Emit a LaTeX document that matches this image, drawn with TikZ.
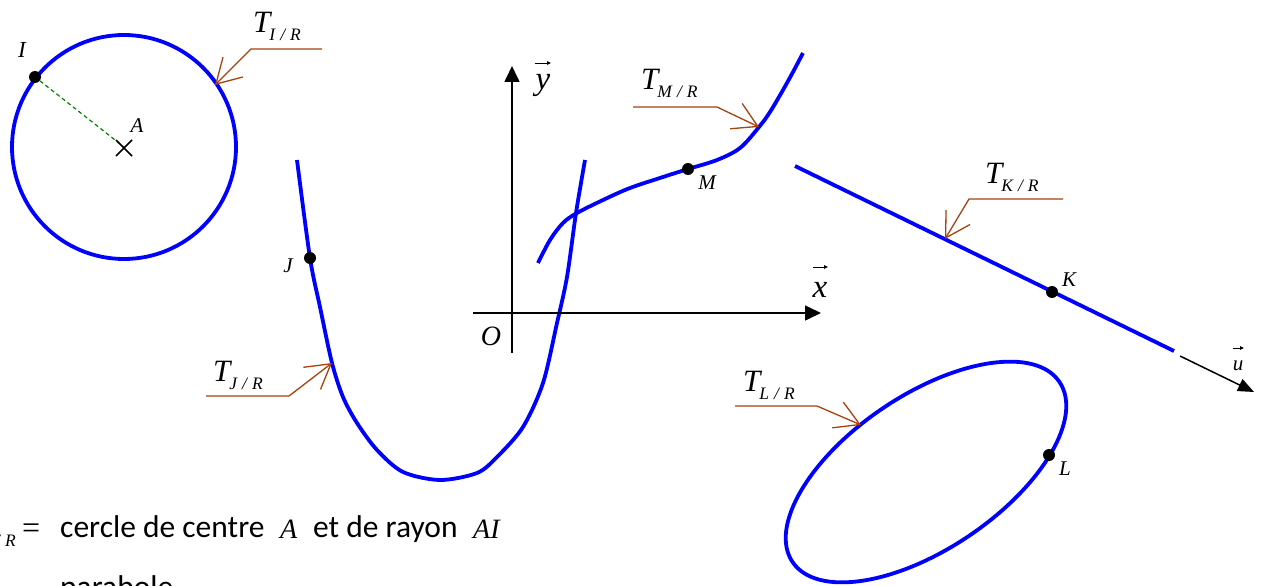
\documentclass[tikz,border=0pt]{standalone}
\usepackage{fontspec}
\setmainfont{Liberation Serif}
\newfontfamily\cali{Carlito}
\usetikzlibrary{arrows.meta}
\definecolor{brn}{RGB}{168,64,16}
\definecolor{dgreen}{RGB}{0,128,0}
\newcommand\Tl[1]{{\fontsize{31}{31}\selectfont\itshape T}\kern-1pt\raisebox{-8pt}{\fontsize{17.5}{17.5}\selectfont\itshape #1\kern5pt/\kern5pt R}}
\newcommand\Lab[2]{{\fontsize{#1}{#1}\selectfont\itshape #2}}
\begin{document}
\begin{tikzpicture}[x=1pt,y=-1pt,
 curve/.style={blue,line width=3.8pt,line join=round},
 dot/.style={circle,fill=black,inner sep=0pt,minimum size=12pt},
 lab/.style={inner sep=0pt,anchor=base},
 tlab/.style={inner sep=0pt,anchor=base west},
 callout/.style={brn,line width=1.3pt,-{Straight Barb[length=24pt,width=28pt]}},
 axis/.style={line width=1.6pt,-{Triangle[length=16pt,width=15pt]}},
 vecarrow/.style={line width=0.9pt,-{Triangle[length=4pt,width=3.5pt]}},
 txt/.style={inner sep=0pt,anchor=base west,font=\cali\fontsize{31.5}{31.5}\selectfont},
]
\useasboundingbox (0,0) rectangle (1262,586);
\clip (0,0) rectangle (1262,586);

% ---- circle
\coordinate (A) at (124,147);
\draw[curve] (A) circle [radius=112pt];
\node[dot] (I) at (35,77) {};
\draw[dgreen,line width=1.2pt,dash pattern=on 4pt off 3pt] (I) -- (A);
\draw[line width=1.5pt] (116,140) -- (132,156) (116,156) -- (132,140);
\node[lab] (Il) at (22,58) {\Lab{23}{I}};
\node[lab] (Al) at (137,132) {\Lab{21}{A}};
\node[tlab] (TI) at (253,33) {\Tl{I}};
\coordinate (cI0) at (322,49); \coordinate (cI1) at (251,49); \coordinate (tI) at (215,85);
\draw[callout] (cI0) -- (cI1) -- (tI);

% ---- parabola
\draw[curve] plot[smooth,tension=0.5] coordinates {(297,160) (310,258) (320,307) (332,363) (343,397) (357,423) (377,450) (403,472) (440,480) (477,473) (497,457) (523,427) (543,383) (557,323) (567,277) (576,213) (585,160)};
\node[dot] (J) at (310,258) {};
\node[lab] (Jl) at (288,272) {\Lab{21}{J}};
\node[tlab] (TJ) at (213,381) {\Tl{J}};
\coordinate (cJ0) at (206,396); \coordinate (cJ1) at (289,396); \coordinate (tJ) at (332,363);
\draw[callout] (cJ0) -- (cJ1) -- (tJ);

% ---- axes
\coordinate (Ox) at (473,313); \coordinate (Xe) at (821,313);
\coordinate (Oy) at (512,353); \coordinate (Ye) at (512,66);
\draw[axis] (Ox) -- (Xe);
\draw[axis] (Oy) -- (Ye);
\node[lab] (Ol) at (491,345) {\Lab{28}{O}};
\node[lab] (xl) at (820,297) {\Lab{33}{x}};
\node[lab] (yl) at (543,90) {\Lab{33}{y}};
\draw[vecarrow] (813,267) -- (828,267);
\draw[vecarrow] (535,63) -- (551,63);

% ---- M curve
\draw[curve] plot[smooth,tension=0.55] coordinates {(538,263) (550,240) (563,223) (577,213) (603,200) (630,188) (663,177) (688,169) (717,160) (740,148) (759,127) (770,112) (783,90) (793,72) (803,53)};
\node[dot] (M) at (688,169) {};
\node[lab] (Ml) at (707,189) {\Lab{21}{M}};
\node[tlab] (TM) at (641,90) {\Tl{M}};
\coordinate (cM0) at (633,107); \coordinate (cM1) at (717,107); \coordinate (tM) at (759,127);
\draw[callout] (cM0) -- (cM1) -- (tM);

% ---- K line
\coordinate (K0) at (795,166); \coordinate (K1) at (1174,351);
\draw[curve,line cap=butt] (K0) -- (K1);
\node[dot] (K) at (1052,292) {};
\node[lab] (Kl) at (1069,286) {\Lab{21}{K}};
\node[tlab] (TK) at (985,183) {\Tl{K}};
\coordinate (cK0) at (1063,199); \coordinate (cK1) at (969,199); \coordinate (tK) at (945,239);
\draw[callout] (cK0) -- (cK1) -- (tK);
\coordinate (u0) at (1180,356); \coordinate (u1) at (1254,392);
\draw[line width=1.5pt,-{Triangle[length=16pt,width=13pt]}] (u0) -- (u1);
\node[lab] (ul) at (1238,370) {\Lab{21}{u}};
\draw[vecarrow] (1233,348) -- (1244,348);

% ---- ellipse
\coordinate (E) at (926,472);
\draw[curve,rotate around={34:(E)}] (E) ellipse [x radius=161pt, y radius=77pt];
\node[dot] (L) at (1049,455) {};
\node[lab] (Ll) at (1065,475) {\Lab{21}{L}};
\node[tlab] (TL) at (743,391) {\Tl{L}};
\coordinate (cL0) at (735,406); \coordinate (cL1) at (817,406); \coordinate (tL) at (861,425);
\draw[callout] (cL0) -- (cL1) -- (tL);

% ---- bottom text
\node[inner sep=0pt,anchor=base east] (bT) at (16,538) {\Tl{I}};
\node[inner sep=0pt,anchor=base west] (beq) at (22,538) {\fontsize{32}{32}\selectfont =};
\node[txt] (b1) at (60,537) {cercle de centre};
\node[inner sep=0pt,anchor=base west] (bA) at (280,538) {\Lab{28}{A}};
\node[txt] (b2) at (313,537) {et de rayon};
\node[inner sep=0pt,anchor=base west] (bAI) at (473,538) {\Lab{28}{AI}};
\node[txt] (b3) at (60,597) {parabole};
\end{tikzpicture}
\end{document}
